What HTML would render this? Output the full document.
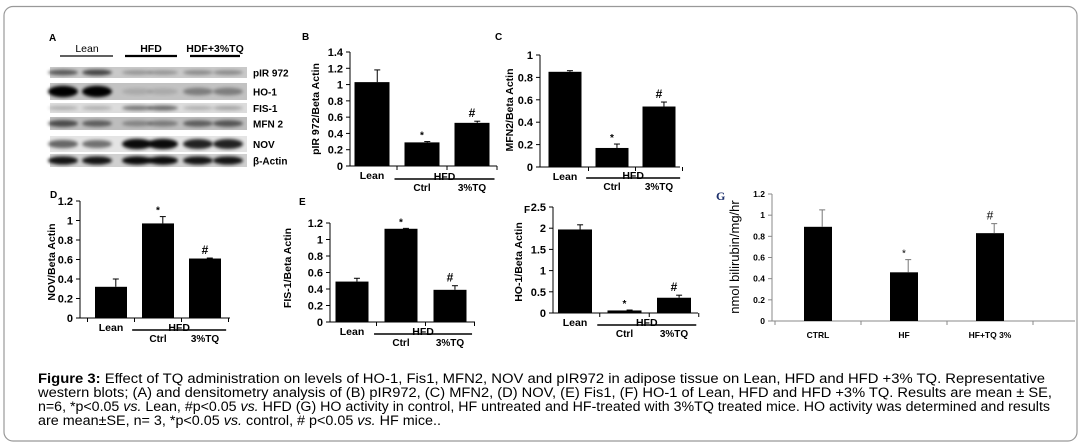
<!DOCTYPE html>
<html><head><meta charset="utf-8"><style>
html,body{margin:0;padding:0;background:#fff;}
svg{display:block;font-family:"Liberation Sans",Arial,sans-serif;}
</style></head><body>
<svg id="fig" width="1081" height="446" viewBox="0 0 1081 446" xmlns="http://www.w3.org/2000/svg">
<defs><filter id="blur" x="-20%" y="-50%" width="140%" height="200%"><feGaussianBlur stdDeviation="1.6"/></filter></defs>
<rect x="4" y="6.5" width="1073" height="434.5" rx="9" fill="#fff" stroke="#999" stroke-width="1.2"/>
<g id="blots"></g>
<g id="charts"></g>
<g id="caption" font-size="13.5" fill="#000">
<text x="38" y="383" textLength="1007" lengthAdjust="spacingAndGlyphs"><tspan font-weight="bold">Figure 3:</tspan>  Effect of TQ administration on levels of HO-1, Fis1, MFN2, NOV and pIR972 in adipose tissue on Lean, HFD and HFD +3% TQ. Representative</text>
<text x="38" y="397" textLength="1014" lengthAdjust="spacingAndGlyphs">western blots; (A) and densitometry analysis of (B) pIR972, (C) MFN2, (D) NOV, (E) Fis1,  (F) HO-1 of Lean, HFD and HFD +3% TQ. Results are mean ± SE,</text>
<text x="38" y="411" textLength="1012" lengthAdjust="spacingAndGlyphs">n=6, *p&lt;0.05 <tspan font-style="italic">vs.</tspan> Lean, #p&lt;0.05 <tspan font-style="italic">vs.</tspan> HFD (G) HO activity in control, HF untreated and HF-treated with 3%TQ treated mice. HO activity was determined and results</text>
<text x="38" y="425" textLength="403" lengthAdjust="spacingAndGlyphs">are mean±SE, n= 3, *p&lt;0.05 <tspan font-style="italic">vs.</tspan> control, # p&lt;0.05 <tspan font-style="italic">vs.</tspan> HF mice..</text>
</g>
</svg>
<script>
// ---- Blot data (band intensity per lane) ----
const blotRows = ["pIR 972","HO-1","FIS-1","MFN 2","NOV","β-Actin"];
const pir972Bands = [0.55,0.65,0.25,0.25,0.3,0.3];
const ho1Bands = [1.0,1.0,0.12,0.12,0.35,0.35];
const fis1Bands = [0.2,0.2,0.45,0.5,0.2,0.25];
const mfn2Bands = [0.6,0.5,0.3,0.35,0.5,0.55];
const novBands = [0.55,0.5,0.95,0.95,0.85,0.85];
const actinBands = [0.9,0.9,0.95,0.95,0.9,0.9];
const groupLabels = ["Lean","HFD","HDF+3%TQ"];

// ---- Chart data ----
const catsBF = ["Lean","Ctrl","3%TQ"];
const catsG = ["CTRL","HF","HF+TQ 3%"];
const bValues = [1.03,0.29,0.53];
const bErrors = [0.15,0.01,0.02];
const bTicks = ["0","0.2","0.4","0.6","0.8","1","1.2","1.4"];
const cValues = [0.85,0.17,0.54];
const cErrors = [0.01,0.035,0.04];
const cTicks = ["0","0.2","0.4","0.6","0.8","1"];
const dValues = [0.32,0.97,0.61];
const dErrors = [0.08,0.07,0.005];
const dTicks = ["0","0.2","0.4","0.6","0.8","1","1.2"];
const eValues = [0.49,1.13,0.39];
const eErrors = [0.04,0.005,0.05];
const eTicks = ["0","0.2","0.4","0.6","0.8","1","1.2"];
const fValues = [1.97,0.06,0.36];
const fErrors = [0.11,0.01,0.06];
const fTicks = ["0","0.5","1","1.5","2","2.5"];
const gValues = [0.89,0.46,0.83];
const gErrors = [0.16,0.12,0.09];
const gTicks = ["0","0.2","0.4","0.6","0.8","1","1.2"];
const bMarks = ["","*","#"];
const gMarks = ["","*","#"];

const NS="http://www.w3.org/2000/svg";
function mk(tag,attrs,parent,txt){const e=document.createElementNS(NS,tag);for(const k in attrs)e.setAttribute(k,attrs[k]);if(txt!==undefined)e.textContent=txt;parent.appendChild(e);return e;}

// ---- Blots ----
const blots=document.getElementById('blots');
const laneX=[63,97,137,163,198,228];
const rowY=[[67,78],[83,100],[103,113],[117,130],[136,152],[154,167]];
const rowBg=["#c9c9c9","#c2c2c2","#dcdcdc","#bdbdbd","#e4e4e4","#d0d0d0"];
const allBands=[pir972Bands,ho1Bands,fis1Bands,mfn2Bands,novBands,actinBands];
mk('text',{x:49,y:41,'font-size':10,'font-weight':'bold'},blots,'A');
const gCenters=[87,151,215],gLines=[[60,113],[125,177],[190,240]];
groupLabels.forEach((g,i)=>{
  const t=mk('text',{x:gCenters[i],y:52,'font-size':10.5,'font-weight':i>0?'bold':'normal','text-anchor':'middle'},blots,g);
  
  
  mk('line',{x1:gLines[i][0],x2:gLines[i][1],y1:56,y2:56,stroke:'#000','stroke-width':i>0?2.2:1.2},blots);
});
blotRows.forEach((r,ri)=>{
  const g=mk('g',{},blots);
  
  
  const [y0,y1]=rowY[ri];
  mk('rect',{x:50,y:y0,width:197,height:y1-y0,fill:rowBg[ri]},g);
  allBands[ri].forEach((v,li)=>{
    mk('ellipse',{cx:laneX[li],cy:(y0+y1)/2,rx:15,ry:Math.max(1.5,(y1-y0)*0.28*(0.6+v*0.6)),fill:'#000',opacity:v,filter:'url(#blur)'},g);
  });
  mk('text',{x:253,y:(y0+y1)/2+4,'font-size':10,'font-weight':'bold'},g,r);
});

// ---- Bar panels ----
const charts=document.getElementById('charts');
function panel(p){
  const g=mk('g',{},charts);
  
  
  const ymax=parseFloat(p.ticks[p.ticks.length-1]);
  const ys=v=>p.y0-(v/ymax)*(p.y0-p.yTop);
  const col=p.gray?'#888':'#000';
  mk('text',{x:p.lx,y:p.ly,'font-size':p.gray?12:10,'font-weight':'bold',fill:p.gray?'#1c2f6b':'#000','font-family':p.gray?'"Liberation Serif",serif':''},g,p.letter);
  mk('line',{x1:p.ax,x2:p.ax,y1:p.yTop,y2:p.y0,stroke:col,'stroke-width':1},g);
  p.ticks.forEach(t=>{
    const y=ys(parseFloat(t));
    mk('line',{x1:p.ax-4,x2:p.ax,y1:y,y2:y,stroke:col},g);
    const tl=mk('text',{x:p.ax-7,y:y+(p.gray?3:4),'font-size':p.gray?8.5:11,'font-weight':'bold','text-anchor':'end'},g,t);
    
    
  });
  mk('line',{x1:p.ax,x2:p.axEnd,y1:p.y0,y2:p.y0,stroke:col},g);
  for(let i=0;i<=p.values.length;i++){
    const x=p.c0+(i-0.5)*p.step;
    if(x>p.ax+2) mk('line',{x1:x,x2:x,y1:p.y0,y2:p.y0+4,stroke:col},g);
  }
  const yt=mk('text',{x:p.tx,y:p.ty,'font-size':p.gray?13:10.5,'font-weight':p.gray?'normal':'bold','text-anchor':'middle',transform:`rotate(-90 ${p.tx} ${p.ty})`},g,p.title);
  
  
  p.values.forEach((v,i)=>{
    const cx=p.c0+i*p.step;
    const b=mk('rect',{x:cx-p.bw/2,y:ys(v),width:p.bw,height:p.y0-ys(v),fill:'#000'},g);
    
    
    const top=ys(v+p.errors[i]);
    mk('line',{x1:cx+p.bw*0.15,x2:cx+p.bw*0.15,y1:top,y2:ys(v),stroke:p.gray?'#777':'#000','stroke-width':1},g);
    mk('line',{x1:cx+p.bw*0.15-3,x2:cx+p.bw*0.15+3,y1:top,y2:top,stroke:p.gray?'#777':'#000'},g);
    if(p.marks[i]) mk('text',{x:cx,y:top-(p.marks[i]==='*'?3:4),'font-size':p.marks[i]==='*'?10:12,'font-weight':p.gray?'normal':'bold','text-anchor':'middle'},g,p.marks[i]);
  });
  if(p.gray){
    p.cats.forEach((c,i)=>{mk('text',{x:p.c0+i*p.step,y:p.y0+17,'font-size':8.5,'font-weight':'bold','text-anchor':'middle'},g,c);});
  } else {
    mk('text',{x:p.c0,y:p.y0+13,'font-size':10.5,'font-weight':'bold','text-anchor':'middle'},g,p.cats[0]);
    const x1=p.c0+0.45*p.step,x2=p.c0+2.45*p.step,hy=p.y0+p.hOff;
    mk('line',{x1:x1,x2:x2,y1:hy,y2:hy,stroke:'#000','stroke-width':1.5},g);
    mk('text',{x:(x1+x2)/2,y:hy+1,'font-size':10.5,'font-weight':'bold','text-anchor':'middle'},g,'HFD');
    mk('text',{x:p.c0+p.step,y:hy+12,'font-size':10,'font-weight':'bold','text-anchor':'middle'},g,p.cats[1]);
    mk('text',{x:p.c0+2*p.step,y:hy+12,'font-size':10,'font-weight':'bold','text-anchor':'middle'},g,p.cats[2]);
  }
}
panel({name:'chart-b-pir972',letter:'B',lx:302,ly:40,values:bValues,errors:bErrors,ticks:bTicks,cats:catsBF,marks:bMarks,ax:350,axEnd:497,y0:166,yTop:52,c0:372,step:50,bw:35,tx:319,ty:109,title:'pIR 972/Beta Actin',hOff:13});
panel({name:'chart-c-mfn2',letter:'C',lx:495,ly:40,values:cValues,errors:cErrors,ticks:cTicks,cats:catsBF,marks:bMarks,ax:540,axEnd:680,y0:167,yTop:55,c0:565,step:47,bw:33,tx:513,ty:110,title:'MFN2/Beta Actin',hOff:11});
panel({name:'chart-d-nov',letter:'D',lx:50,ly:198,values:dValues,errors:dErrors,ticks:dTicks,cats:catsBF,marks:bMarks,ax:80,axEnd:230,y0:318,yTop:201,c0:111,step:47,bw:32,tx:55,ty:262,title:'NOV/Beta Actin',hOff:12});
panel({name:'chart-e-fis1',letter:'E',lx:299,ly:205,values:eValues,errors:eErrors,ticks:eTicks,cats:catsBF,marks:bMarks,ax:330,axEnd:475,y0:322,yTop:223,c0:352,step:49,bw:33,tx:291,ty:268,title:'FIS-1/Beta Actin',hOff:12});
panel({name:'chart-f-ho1',letter:'F',lx:524,ly:213,values:fValues,errors:fErrors,ticks:fTicks,cats:catsBF,marks:bMarks,ax:553,axEnd:698,y0:313,yTop:207,c0:575,step:49.5,bw:34,tx:522,ty:262,title:'HO-1/Beta Actin',hOff:12});
panel({name:'chart-g-ho-activity',letter:'G',lx:716,ly:200,gray:true,values:gValues,errors:gErrors,ticks:gTicks,cats:catsG,marks:gMarks,ax:772,axEnd:1075,y0:321,yTop:194,c0:818,step:86,bw:28,tx:739,ty:257,title:'nmol bilirubin/mg/hr'});
</script>
</body></html>
